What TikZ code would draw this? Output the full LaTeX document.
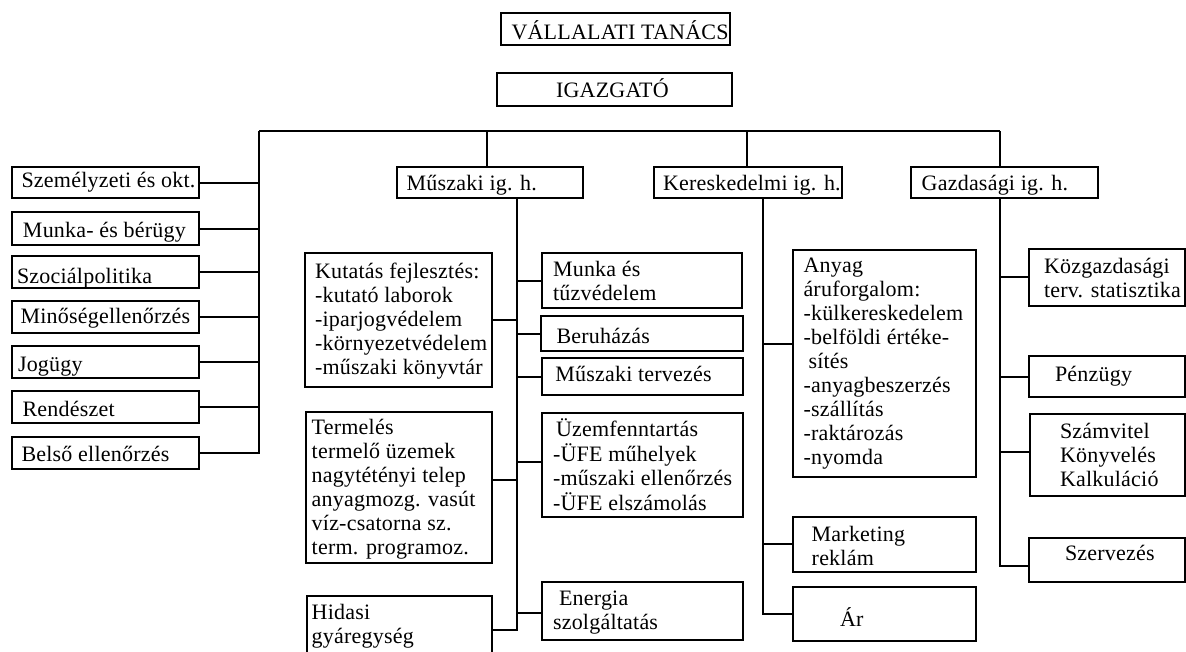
\documentclass[tikz,border=0pt]{standalone}
\usepackage{fontspec}
\setmainfont{Liberation Serif}[LetterSpace=1]
\newcommand\obox[8]{%
  \pgfmathsetmacro\obw{#4-#2}%
  \pgfmathsetmacro\obh{#5-#3}%
  \pgfmathsetmacro\obt{#4-#2-2*#6}%
  \node[orgbox, minimum width=\obw pt, minimum height=\obh pt] (#1) at ({(#2+#4)/2},{(#3+#5)/2})
   {\makebox[\obt pt][l]{\raisebox{-#7pt}[\height][\depth]{\begin{tabular}{@{}l@{}}#8\end{tabular}}}};}
\tikzset{
  orgbox/.style={draw, rectangle, line width=2pt, inner sep=0pt, outer sep=0pt},
  conn/.style={line width=2pt}
}
\begin{document}
\begin{tikzpicture}[x=1pt,y=-1pt,font=\fontsize{22}{24}\selectfont]
\useasboundingbox (0,0) rectangle (1186,651);
% top
\obox{vt}{501}{13}{730}{45}{10.5}{4.4}{VÁLLALATI TANÁCS}
\obox{ig}{497}{73}{732}{106}{59}{2.3}{IGAZGATÓ}
% left staff
\obox{szem}{12}{167}{199}{198}{9.5}{0}{Személyzeti és okt.}
\obox{munk}{12}{212}{199}{245}{11}{4.5}{Munka- és bérügy}
\obox{szoc}{12}{256}{199}{288}{5}{7}{Szociálpolitika}
\obox{minos}{12}{301}{199}{333}{8.5}{1.5}{Minőségellenőrzés}
\obox{jog}{12}{346}{199}{378}{6}{5}{Jogügy}
\obox{rend}{12}{391}{199}{423}{10.5}{5}{Rendészet}
\obox{belso}{12}{437}{199}{469}{9.5}{4}{Belső ellenőrzés}
% deputies
\obox{mus}{396.7}{166.7}{583.3}{197.7}{10}{3}{Műszaki ig. h.}
\obox{ker}{654}{166.7}{841.5}{197.7}{9}{3}{Kereskedelmi ig. h.}
\obox{gaz}{911}{166.7}{1097.7}{197.7}{10.7}{3}{Gazdasági ig. h.}
% muszaki left
\obox{kut}{305}{253.3}{491.7}{386.7}{10}{1.4}{Kutatás fejlesztés:\\-kutató laborok\\-iparjogvédelem\\-környezetvédelem\\-műszaki könyvtár}
\obox{term}{305.7}{411.7}{491.7}{563.3}{6}{2}{Termelés\\termelő üzemek\\nagytétényi telep\\anyagmozg. vasút\\víz-csatorna sz.\\term. programoz.}
\obox{hid}{306.7}{596}{491.7}{664}{5}{-3}{Hidasi\\gyáregység}
% muszaki right
\obox{mt}{542.3}{253.3}{742.3}{308.3}{10.7}{2.5}{Munka és\\tűzvédelem}
\obox{ber}{541}{316}{743}{351}{15.5}{5}{Beruházás}
\obox{mter}{542.3}{358.3}{743}{395}{13}{0}{Műszaki tervezés}
\obox{uzem}{542.3}{413.3}{743.3}{516.7}{10.7}{3}{\hspace{3pt}Üzemfenntartás\\-ÜFE műhelyek\\-műszaki ellenőrzés\\-ÜFE elszámolás}
\obox{ener}{542.3}{581.7}{743.3}{640}{10.7}{1.5}{\hspace{6pt}Energia\\szolgáltatás}
% kereskedelmi
\obox{any}{793}{250}{976}{476.7}{10.5}{0}{Anyag\\áruforgalom:\\-külkereskedelem\\-belföldi értéke-\\\hspace{5pt}sítés\\-anyagbeszerzés\\-szállítás\\-raktározás\\-nyomda}
\obox{mark}{793}{516.7}{976}{571.7}{18.7}{4.7}{Marketing\\reklám}
\obox{ar}{793}{587}{976}{641}{47}{7}{Ár}
% gazdasagi
\obox{kozg}{1029}{249}{1184.5}{305.7}{15}{3}{Közgazdasági\\terv. statisztika}
\obox{penz}{1029}{356}{1184.5}{397}{26}{0}{Pénzügy}
\obox{szam}{1030}{414}{1184.5}{495.7}{30}{2.7}{Számvitel\\Könyvelés\\Kalkuláció}
\obox{szerv}{1029}{537.7}{1184.5}{582}{36}{-4.6}{Szervezés}
% connector junctions
\coordinate (bl) at (259.3,131);
\coordinate (br) at (1000,131);
\coordinate (bm) at (487.3,131);
\coordinate (bk) at (746.7,131);
\coordinate (mtop) at (516.5,197.7);
\coordinate (ktop) at (763.3,197.7);
\coordinate (gtop) at (1000,197.7);
% bar and drops
\draw[conn] (bl) -- (br);
\draw[conn] (bm) -- (bm |- mus.north);
\draw[conn] (bk) -- (bk |- ker.north);
\draw[conn] (br) -- (br |- gaz.north);
% left staff spine
\draw[conn] (bl) |- (belso.east);
\foreach \n in {szem,munk,szoc,minos,jog,rend}
  \draw[conn] (\n.east) -- (\n.east -| bl);
% muszaki spine
\draw[conn] (mtop) |- (hid.east);
\draw[conn] (kut.east) -- (kut.east -| mtop);
\draw[conn] ([yshift=7.5pt]term.east) -- ([yshift=7.5pt]term.east -| mtop);
\draw[conn] (mtop |- mt.west) -- (mt.west);
\draw[conn] (mtop |- ber.west) -- (ber.west);
\draw[conn] (mtop |- mter.west) -- (mter.west);
\draw[conn] ([yshift=3.3pt]uzem.west -| mtop) -- ([yshift=3.3pt]uzem.west);
\draw[conn] ([yshift=-2pt]ener.west -| mtop) -- ([yshift=-2pt]ener.west);
% kereskedelmi spine
\draw[conn] (ktop) |- (ar.west);
\draw[conn] ([yshift=19.5pt]any.west -| ktop) -- ([yshift=19.5pt]any.west);
\draw[conn] (ktop |- mark.west) -- (mark.west);
% gazdasagi spine
\draw[conn] (gtop) |- ([yshift=-6pt]szerv.west);
\draw[conn] (gtop |- kozg.west) -- (kozg.west);
\draw[conn] (gtop |- penz.west) -- (penz.west);
\draw[conn] ([yshift=2.8pt]szam.west -| gtop) -- ([yshift=2.8pt]szam.west);
\end{tikzpicture}
\end{document}
